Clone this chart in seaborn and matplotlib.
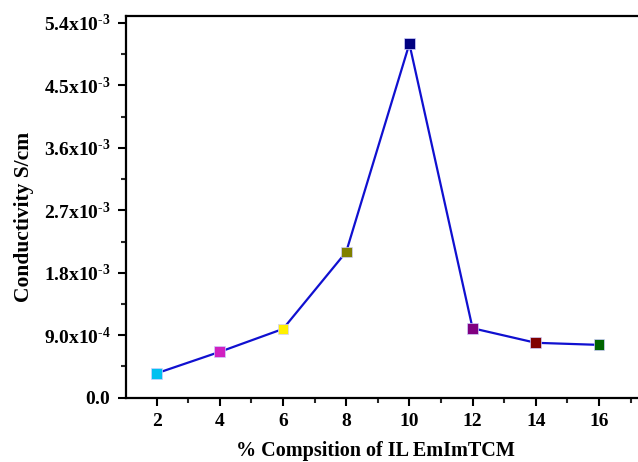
import matplotlib
matplotlib.use("Agg")
import matplotlib.pyplot as plt
import seaborn as sns
import pandas as pd
from matplotlib.ticker import FixedLocator, MultipleLocator

composition = [2, 4, 6, 8, 10, 12, 14, 16]
conductivity = [3.5e-4, 6.6e-4, 9.9e-4, 2.10e-3, 5.10e-3, 1.0e-3, 7.9e-4, 7.6e-4]
point_colors = ["#00C0F0", "#D020C0", "#FFF000", "#808000", "#000080", "#800080", "#800000", "#006400"]
ytick_values = [0.0, 9.0e-4, 1.8e-3, 2.7e-3, 3.6e-3, 4.5e-3, 5.4e-3]
ytick_labels = [r"$\mathbf{0.0}$", r"$\mathbf{9.0x10}^{\mathbf{\text{-}4}}$", r"$\mathbf{1.8x10}^{\mathbf{\text{-}3}}$",
                r"$\mathbf{2.7x10}^{\mathbf{\text{-}3}}$", r"$\mathbf{3.6x10}^{\mathbf{\text{-}3}}$",
                r"$\mathbf{4.5x10}^{\mathbf{\text{-}3}}$", r"$\mathbf{5.4x10}^{\mathbf{\text{-}3}}$"]
xtick_values = [2, 4, 6, 8, 10, 12, 14, 16]

sns.set_style("ticks")
plt.rcParams["font.family"] = ["Liberation Serif", "DejaVu Serif"]
plt.rcParams["font.weight"] = "bold"
plt.rcParams["text.color"] = "black"
plt.rcParams["axes.labelcolor"] = "black"
plt.rcParams["mathtext.fontset"] = "custom"
plt.rcParams["mathtext.rm"] = "Liberation Serif:bold"
plt.rcParams["mathtext.bf"] = "Liberation Serif:bold"
plt.rcParams["mathtext.it"] = "Liberation Serif:bold"

df = pd.DataFrame({"x": composition, "y": conductivity, "c": [str(i) for i in range(len(composition))]})

fig = plt.figure(figsize=(6.38, 4.62), dpi=100)
ax = fig.add_axes([126/638, 1-397.6/462, 514/638, (397.6-15.7)/462])

sns.lineplot(data=df, x="x", y="y", color="#1010D0", linewidth=1.6, ax=ax, zorder=2)
sns.scatterplot(data=df, x="x", y="y", hue="c", palette=point_colors, marker="s", s=60,
                edgecolor="#d0d0ff", linewidth=0.5, legend=False, ax=ax, zorder=3)

ax.set_xlim(1.03, 17.3)
ax.set_ylim(0, 5.505e-3)
ax.xaxis.set_major_locator(FixedLocator(xtick_values))
ax.xaxis.set_minor_locator(MultipleLocator(1))
ax.set_yticks(ytick_values)
ax.set_yticklabels(ytick_labels)
ax.yaxis.set_minor_locator(MultipleLocator(4.5e-4))
ax.set_xticklabels([str(v) for v in xtick_values], fontweight="bold")
ax.tick_params(axis="both", which="major", direction="out", length=6, width=1.5, labelsize=14,
               colors="black", pad=5)
ax.tick_params(axis="both", which="minor", direction="out", length=3.5, width=1.5)
for sp in ax.spines.values():
    sp.set_linewidth(1.6)
    sp.set_color("black")
ax.set_xlabel("% Compsition of IL EmImTCM", fontsize=14.5, fontweight="bold")
ax.xaxis.set_label_coords(0.4844, -0.114)
ax.set_ylabel("Conductivity S/cm", fontsize=15.5, fontweight="bold")
ax.yaxis.set_label_coords(-0.179, 0.473)

fig.savefig("out.png", dpi=100)
